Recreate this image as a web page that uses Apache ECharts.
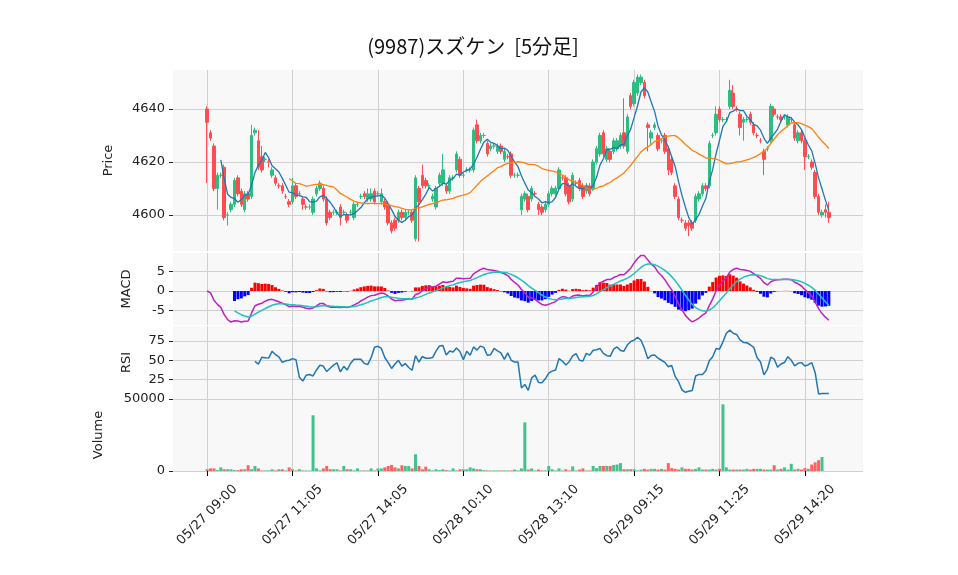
<!DOCTYPE html>
<html><head><meta charset="utf-8">
<script src="https://cdn.jsdelivr.net/npm/echarts@6/dist/echarts.min.js"></script>
<style>html,body{margin:0;padding:0;background:#fff}#c{width:958px;height:575px}</style>
</head><body><div id="c"></div>
<script>
const opens=[4640,4631,4626,4610,4615,4618,4600,4602,4604,4614,4609,4602,4608,4607,4631,4628,4622,4621,4620,4615,4614,4611,4611,4607,4605,4605,4611,4608,4606,4603,4603,4601,4608,4610,4610,4606,4601,4601,4601,4603,4601,4600,4601,4599,4604,4607,4608,4606,4606,4609,4608,4605,4605,4604,4597,4598,4598,4601,4599,4601,4601,4591,4610,4615,4613,4611,4606,4603,4612,4612,4611,4609,4614,4617,4621,4615,4617,4617,4617,4634,4628,4630,4627,4625,4626,4624,4626,4621,4622,4623,4615,4615,4602,4606,4607,4606,4608,4604,4603,4602,4604,4608,4608,4610,4614,4614,4611,4606,4612,4613,4611,4609,4611,4610,4620,4623,4631,4621,4624,4624,4625,4626,4631,4624,4645,4642,4646,4650,4650,4634,4629,4633,4630,4628,4630,4625,4621,4611,4606,4598,4597,4597,4597,4598,4606,4608,4611,4611,4630,4631,4640,4636,4636,4641,4646,4640,4638,4635,4636,4638,4634,4630,4628,4624,4625,4628,4640,4637,4637,4637,4634,4636,4634,4628,4631,4628,4622,4620,4616,4607,4600,4602,4601];
const closes=[4635,4629,4610,4615,4615,4599,4600,4604,4613,4608,4604,4608,4606,4630,4632,4618,4617,4621,4620,4617,4612,4611,4609,4607,4604,4611,4607,4608,4604,4603,4603,4606,4610,4612,4606,4597,4599,4601,4601,4599,4601,4598,4601,4604,4604,4607,4607,4608,4608,4605,4608,4608,4603,4597,4594,4595,4601,4599,4601,4601,4598,4614,4605,4611,4611,4611,4607,4610,4615,4617,4609,4614,4614,4623,4615,4615,4617,4617,4632,4628,4630,4630,4623,4626,4626,4626,4624,4624,4622,4615,4615,4615,4607,4608,4602,4610,4608,4602,4601,4604,4608,4610,4610,4617,4614,4608,4605,4615,4612,4610,4607,4611,4608,4620,4625,4630,4623,4625,4621,4628,4628,4630,4626,4637,4641,4650,4652,4652,4645,4633,4631,4634,4625,4628,4624,4617,4616,4607,4599,4598,4595,4596,4595,4607,4608,4611,4610,4627,4630,4638,4636,4636,4636,4647,4641,4640,4633,4636,4636,4635,4631,4630,4628,4621,4625,4641,4638,4637,4636,4637,4637,4636,4629,4631,4628,4622,4622,4618,4607,4601,4601,4601,4599];
const highs=[4641,4632,4627,4616,4616,4619,4601,4605,4614,4615,4610,4609,4609,4634,4633,4632,4626,4622,4621,4618,4615,4612,4612,4608,4606,4614,4612,4609,4607,4604,4604,4607,4611,4613,4611,4607,4602,4602,4602,4604,4602,4601,4602,4605,4605,4608,4609,4610,4610,4610,4609,4610,4606,4605,4598,4599,4602,4602,4602,4602,4602,4615,4611,4619,4614,4612,4608,4611,4616,4623,4612,4615,4615,4624,4622,4616,4618,4618,4633,4636,4631,4631,4628,4627,4627,4627,4627,4625,4623,4624,4616,4616,4608,4609,4608,4611,4609,4605,4604,4605,4609,4611,4611,4618,4615,4615,4612,4616,4613,4614,4612,4612,4612,4621,4626,4631,4632,4626,4625,4629,4629,4631,4644,4638,4646,4651,4653,4653,4651,4635,4632,4635,4631,4629,4631,4626,4622,4612,4607,4599,4598,4598,4598,4608,4609,4612,4612,4628,4631,4641,4641,4637,4637,4651,4649,4641,4639,4637,4637,4639,4635,4631,4629,4625,4626,4642,4641,4638,4638,4638,4638,4637,4635,4632,4632,4629,4623,4621,4617,4608,4602,4604,4605];
const lows=[4612,4628,4609,4602,4614,4598,4596,4601,4603,4607,4603,4601,4605,4606,4630,4617,4616,4620,4618,4614,4611,4610,4608,4606,4603,4604,4606,4607,4602,4602,4602,4600,4607,4609,4605,4596,4598,4600,4600,4596,4600,4597,4600,4598,4603,4606,4606,4605,4605,4604,4607,4604,4602,4596,4593,4594,4597,4598,4598,4600,4597,4590,4590,4610,4610,4610,4605,4602,4611,4611,4608,4608,4613,4616,4614,4614,4616,4616,4616,4627,4627,4629,4622,4624,4625,4623,4623,4620,4621,4614,4614,4614,4600,4605,4601,4605,4607,4600,4600,4601,4603,4607,4607,4609,4613,4607,4604,4605,4611,4609,4606,4608,4607,4609,4619,4622,4622,4620,4620,4623,4624,4625,4625,4623,4640,4641,4645,4649,4644,4624,4626,4632,4624,4627,4623,4615,4615,4606,4598,4597,4594,4592,4594,4597,4605,4607,4609,4610,4629,4630,4635,4635,4635,4640,4640,4639,4630,4628,4635,4634,4630,4629,4627,4615,4624,4627,4637,4636,4635,4636,4633,4635,4628,4627,4627,4617,4621,4617,4606,4600,4599,4599,4597];
const volumes=[1200,1800,1800,600,2500,1200,1200,1200,600,600,1200,1200,4000,1200,3500,1800,400,400,400,1200,400,1200,1200,400,2500,1200,400,1200,400,400,300,38700,1800,400,1800,3500,1200,1200,1200,400,3500,1200,1200,400,1800,400,400,400,1800,400,1800,1800,2500,3500,4200,2500,1800,4000,3500,3500,1800,11600,3500,1200,3000,1200,400,1200,600,1200,600,400,1800,400,1200,1200,1200,2500,1800,1200,1200,600,400,400,400,400,400,400,400,400,1000,400,1800,33800,1000,1800,400,1000,400,400,3500,1200,400,1800,400,1200,400,3200,400,1000,1800,400,400,3500,2000,3500,3500,3500,3500,4200,4500,5500,1200,1200,1200,1200,400,1000,1500,1000,1500,1500,1000,1500,1000,5500,2000,1500,1000,2500,1500,1500,1000,1500,2500,1000,1000,1000,1500,1000,1500,46300,2500,1000,1000,1000,1000,1000,1500,1000,1500,1500,1500,1000,1000,1000,4000,1000,1500,2500,1000,5000,1000,1500,1000,2000,1500,4500,6000,7500,9700];
const tickIdx=[0,25,50,75,100,125,150,175];
const tickLabels=['05/27 09:00','05/27 11:05','05/27 14:05','05/28 10:10','05/28 13:10','05/29 09:15','05/29 11:25','05/29 14:20'];
const priceTicks=[4600,4620,4640], macdTicks=[-5,0,5], rsiTicks=[25,50,75], volTicks=[0,50000];

const PAD=10, N=closes.length;
const cats=[]; for(let i=-PAD;i<N+PAD;i++) cats.push(String(i));
const pad=a=>{const r=[];for(let i=0;i<PAD;i++)r.push('-');a.forEach(v=>r.push(v==null?'-':v));for(let i=0;i<PAD;i++)r.push('-');return r;};
function sma(a,n){return a.map((v,i)=>i<n-1?null:+(a.slice(i-n+1,i+1).reduce((s,x)=>s+x,0)/n).toFixed(3));}
function ema(a,n){const k=2/(n+1);const r=[];a.forEach((v,i)=>r.push(i===0?v:v*k+r[i-1]*(1-k)));return r;}
const e12=ema(closes,12),e26=ema(closes,26);
const macd=e12.map((v,i)=>v-e26[i]);
const sigFull=ema(macd,9);
const sig=sigFull.map((v,i)=>i<8?null:v);
const hist=macd.map((v,i)=>i<8?null:v-sigFull[i]);
const rsi=closes.map((v,i)=>{if(i<14)return null;let g=0,l=0;for(let j=i-13;j<=i;j++){const d=closes[j]-closes[j-1];if(d>0)g+=d;else l-=d;}return l===0?100:100-100/(1+g/l);});
const UP='#2cbd80',DN='#ff4d4f',VUP='#44c28c',VDN='#ff6060';
const gridL=173,gridR=95;
const grids=[{top:70,height:181},{top:253,height:72},{top:326,height:73},{top:399,height:72}].map(g=>Object.assign({left:gridL,right:gridR,show:true,backgroundColor:'#f8f8f8',borderWidth:0},g));
const showTick=(i)=>tickIdx.indexOf(i-PAD)>=0;
const xAxes=grids.map((g,k)=>({type:'category',gridIndex:k,data:cats,boundaryGap:false,
  axisLine:{show:false},
  axisTick:{show:k===3,interval:showTick,length:5,lineStyle:{color:'#000'}},
  axisLabel:{show:k===3,interval:showTick,rotate:45,align:'center',verticalAlign:'middle',fontSize:13,color:'#222',fontFamily:'DejaVu Sans',margin:44,
    formatter:(v,i)=>{const t=tickIdx.indexOf(i-PAD);return t>=0?tickLabels[t]:'';}},
  splitLine:{show:true,interval:showTick,lineStyle:{color:'#d0d0d0',width:1}}}));
function yax(k,min,max,ticks,name,gap){return {type:'value',gridIndex:k,min,max,position:'left',
  name,nameLocation:'middle',nameGap:gap,nameTextStyle:{fontSize:13,color:'#222',fontFamily:'DejaVu Sans'},
  axisLine:{show:false},
  axisTick:{show:true,customValues:ticks,length:4,lineStyle:{color:'#222'}},
  axisLabel:{customValues:ticks,formatter:v=>String(v),fontSize:13,color:'#222',fontFamily:'DejaVu Sans',margin:8},
  splitLine:{show:true,lineStyle:{color:'#d0d0d0'}}};}
const yAxes=[yax(0,4586.4,4654.7,priceTicks,'Price',58),yax(1,-8.7,9.74,macdTicks,'MACD',40),yax(2,0,94.2,rsiTicks,'RSI',40),yax(3,0,50000,volTicks,'Volume',68)];
const ohlc=opens.map((o,i)=>[o,closes[i],lows[i],highs[i]]);
const chart=echarts.init(document.getElementById('c'));
chart.setOption({animation:false,backgroundColor:'#fff',
  title:{text:'(9987)スズケン  [5分足]',left:468,top:31,textAlign:'center',textStyle:{fontSize:20,fontWeight:'normal',color:'#111',fontFamily:'Noto Sans CJK JP'}},
  grid:grids,xAxis:xAxes,yAxis:yAxes,
  series:[
   {type:'candlestick',xAxisIndex:0,yAxisIndex:0,data:pad(ohlc),barWidth:3,itemStyle:{color:UP,color0:DN,borderColor:UP,borderColor0:DN,borderWidth:1}},
   {type:'line',xAxisIndex:0,yAxisIndex:0,data:pad(sma(closes,5)),showSymbol:false,lineStyle:{color:'#1f77b4',width:1.3}},
   {type:'line',xAxisIndex:0,yAxisIndex:0,data:pad(sma(closes,25)),showSymbol:false,lineStyle:{color:'#ff7f0e',width:1.3}},
   {type:'bar',xAxisIndex:1,yAxisIndex:1,barWidth:3,data:pad(hist.map(v=>v==null?null:{value:v,itemStyle:{color:v>=0?'#ff0000':'#0000ff'}}))},
   {type:'line',xAxisIndex:1,yAxisIndex:1,data:pad(macd),showSymbol:false,lineStyle:{color:'#c020c0',width:1.5}},
   {type:'line',xAxisIndex:1,yAxisIndex:1,data:pad(sig),showSymbol:false,lineStyle:{color:'#20c0c0',width:1.5}},
   {type:'line',xAxisIndex:2,yAxisIndex:2,data:pad(rsi),showSymbol:false,lineStyle:{color:'#1f77b4',width:1.5}},
   {type:'bar',xAxisIndex:3,yAxisIndex:3,barWidth:3,data:pad(volumes.map((v,i)=>({value:v,itemStyle:{color:closes[i]>=opens[i]?VUP:VDN}})))}
  ]});
</script></body></html>
